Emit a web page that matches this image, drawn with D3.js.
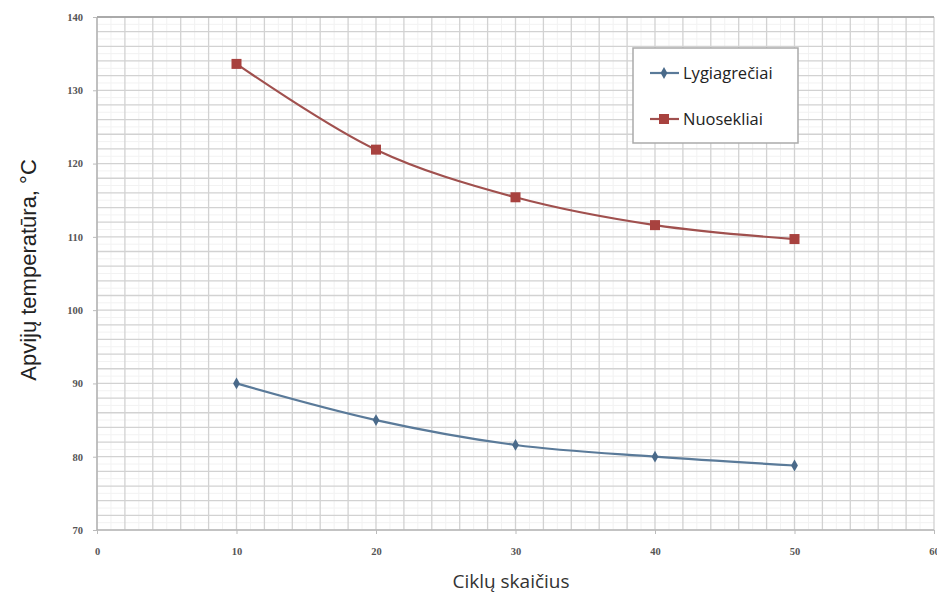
<!DOCTYPE html>
<html><head><meta charset="utf-8">
<script src="https://cdn.jsdelivr.net/npm/d3@7"></script>
<style>body{margin:0;background:#fff}svg{display:block}</style>
</head><body>
<svg id="c" width="937" height="598"></svg>
<script>
const cycles = [10, 20, 30, 40, 50];
const lygiagretiai = [90.0, 85.0, 81.6, 80.0, 78.8];
const nuosekliai = [133.6, 121.9, 115.4, 111.6, 109.7];
const seriesNames = ["Lygiagrečiai", "Nuosekliai"];
const xTicks = [0, 10, 20, 30, 40, 50, 60];
const yTicks = [70, 80, 90, 100, 110, 120, 130, 140];

const svg = d3.select("#c");
const L = 97, R = 934, T = 17, B = 530;
const x = d3.scaleLinear().domain([0, 60]).range([L, R]);
const y = d3.scaleLinear().domain([70, 140]).range([B, T]);

// faint minor grid (1 unit)
const g = svg.append("g");
g.selectAll("line.vx1").data(d3.range(1, 60, 2)).enter().append("line")
  .attr("x1", d => x(d)).attr("x2", d => x(d)).attr("y1", T).attr("y2", B)
  .attr("stroke", "#f2f2f2").attr("stroke-width", 1);
g.selectAll("line.hy1").data(d3.range(71, 140, 2)).enter().append("line")
  .attr("y1", d => y(d)).attr("y2", d => y(d)).attr("x1", L).attr("x2", R)
  .attr("stroke", "#f2f2f2").attr("stroke-width", 1);
// grid every 2 units
g.selectAll("line.vx").data(d3.range(0, 61, 2)).enter().append("line")
  .attr("x1", d => x(d)).attr("x2", d => x(d)).attr("y1", T).attr("y2", B)
  .attr("stroke", "#d2d2d2").attr("stroke-width", 1.3);
g.selectAll("line.hy").data(d3.range(70, 141, 2)).enter().append("line")
  .attr("y1", d => y(d)).attr("y2", d => y(d)).attr("x1", L).attr("x2", R)
  .attr("stroke", "#d2d2d2").attr("stroke-width", 1.3);

// axes
svg.append("line").attr("x1", L).attr("x2", R).attr("y1", T).attr("y2", T).attr("stroke", "#999").attr("stroke-width", 1.5);
svg.append("line").attr("x1", L).attr("x2", L).attr("y1", T).attr("y2", B).attr("stroke", "#aaa").attr("stroke-width", 1.2);
svg.append("line").attr("x1", L).attr("x2", R).attr("y1", B).attr("y2", B).attr("stroke", "#aaa").attr("stroke-width", 1.2);

const xAxis = svg.append("g").attr("transform", `translate(0,${B})`)
  .call(d3.axisBottom(x).tickValues(xTicks).tickSize(4).tickPadding(14));
const yAxis = svg.append("g").attr("transform", `translate(${L},0)`)
  .call(d3.axisLeft(y).tickValues(yTicks).tickSize(4).tickPadding(10));
[xAxis, yAxis].forEach(a => {
  a.select(".domain").remove();
  a.selectAll(".tick line").attr("stroke", "#bbb");
  a.selectAll("text").attr("font-family", "Liberation Serif, serif")
    .attr("font-size", 10.5).attr("font-weight", "bold").attr("fill", "#555");
});

// lines
const curve = d3.curveCatmullRom.alpha(0.5);
const lineGen = d3.line().x((d, i) => x(cycles[i])).y(d => y(d)).curve(curve);
const colors = ["#5a7a99", "#a0504e"];
const data = [lygiagretiai, nuosekliai];
data.forEach((s, k) => {
  svg.append("path").datum(s).attr("d", lineGen).attr("fill", "none")
    .attr("stroke", colors[k]).attr("stroke-width", 2.2);
});
// markers
svg.selectAll("path.dia").data(lygiagretiai).enter().append("path")
  .attr("d", d3.symbol(d3.symbolDiamond, 40)())
  .attr("transform", (d, i) => `translate(${x(cycles[i])},${y(d)})`)
  .attr("fill", "#4a6a8a");
svg.selectAll("rect.sq").data(nuosekliai).enter().append("rect")
  .attr("x", (d, i) => x(cycles[i]) - 5).attr("y", d => y(d) - 5)
  .attr("width", 10).attr("height", 10).attr("fill", "#a8423f");

// legend
const lg = svg.append("g");
lg.append("rect").attr("x", 633).attr("y", 48).attr("width", 165).attr("height", 95)
  .attr("fill", "#fff").attr("stroke", "#aaa").attr("stroke-width", 1.5);
const ly = [73, 119];
seriesNames.forEach((n, k) => {
  lg.append("line").attr("x1", 650).attr("x2", 679).attr("y1", ly[k]).attr("y2", ly[k])
    .attr("stroke", colors[k]).attr("stroke-width", 2.2);
  if (k === 0) {
    lg.append("path").attr("d", d3.symbol(d3.symbolDiamond, 40)())
      .attr("transform", `translate(664,${ly[k]})`).attr("fill", "#4a6a8a");
  } else {
    lg.append("rect").attr("x", 659).attr("y", ly[k] - 5).attr("width", 10).attr("height", 10).attr("fill", "#a8423f");
  }
  lg.append("text").attr("x", 683).attr("y", ly[k] + 6).text(n)
    .attr("font-family", "Open Sans, sans-serif").attr("font-size", 16.5).attr("fill", "#222");
});

// titles
svg.append("text").attr("transform", "translate(36,270) rotate(-90)")
  .attr("text-anchor", "middle").attr("font-family", "Liberation Sans, Arial, sans-serif")
  .attr("font-size", 22).attr("fill", "#222").text("Apvijų temperatūra, °C");
svg.append("text").attr("x", 511).attr("y", 588).attr("text-anchor", "middle")
  .attr("font-family", "Open Sans, sans-serif").attr("font-size", 19).attr("fill", "#333")
  .text("Ciklų skaičius");
</script>
</body></html>
